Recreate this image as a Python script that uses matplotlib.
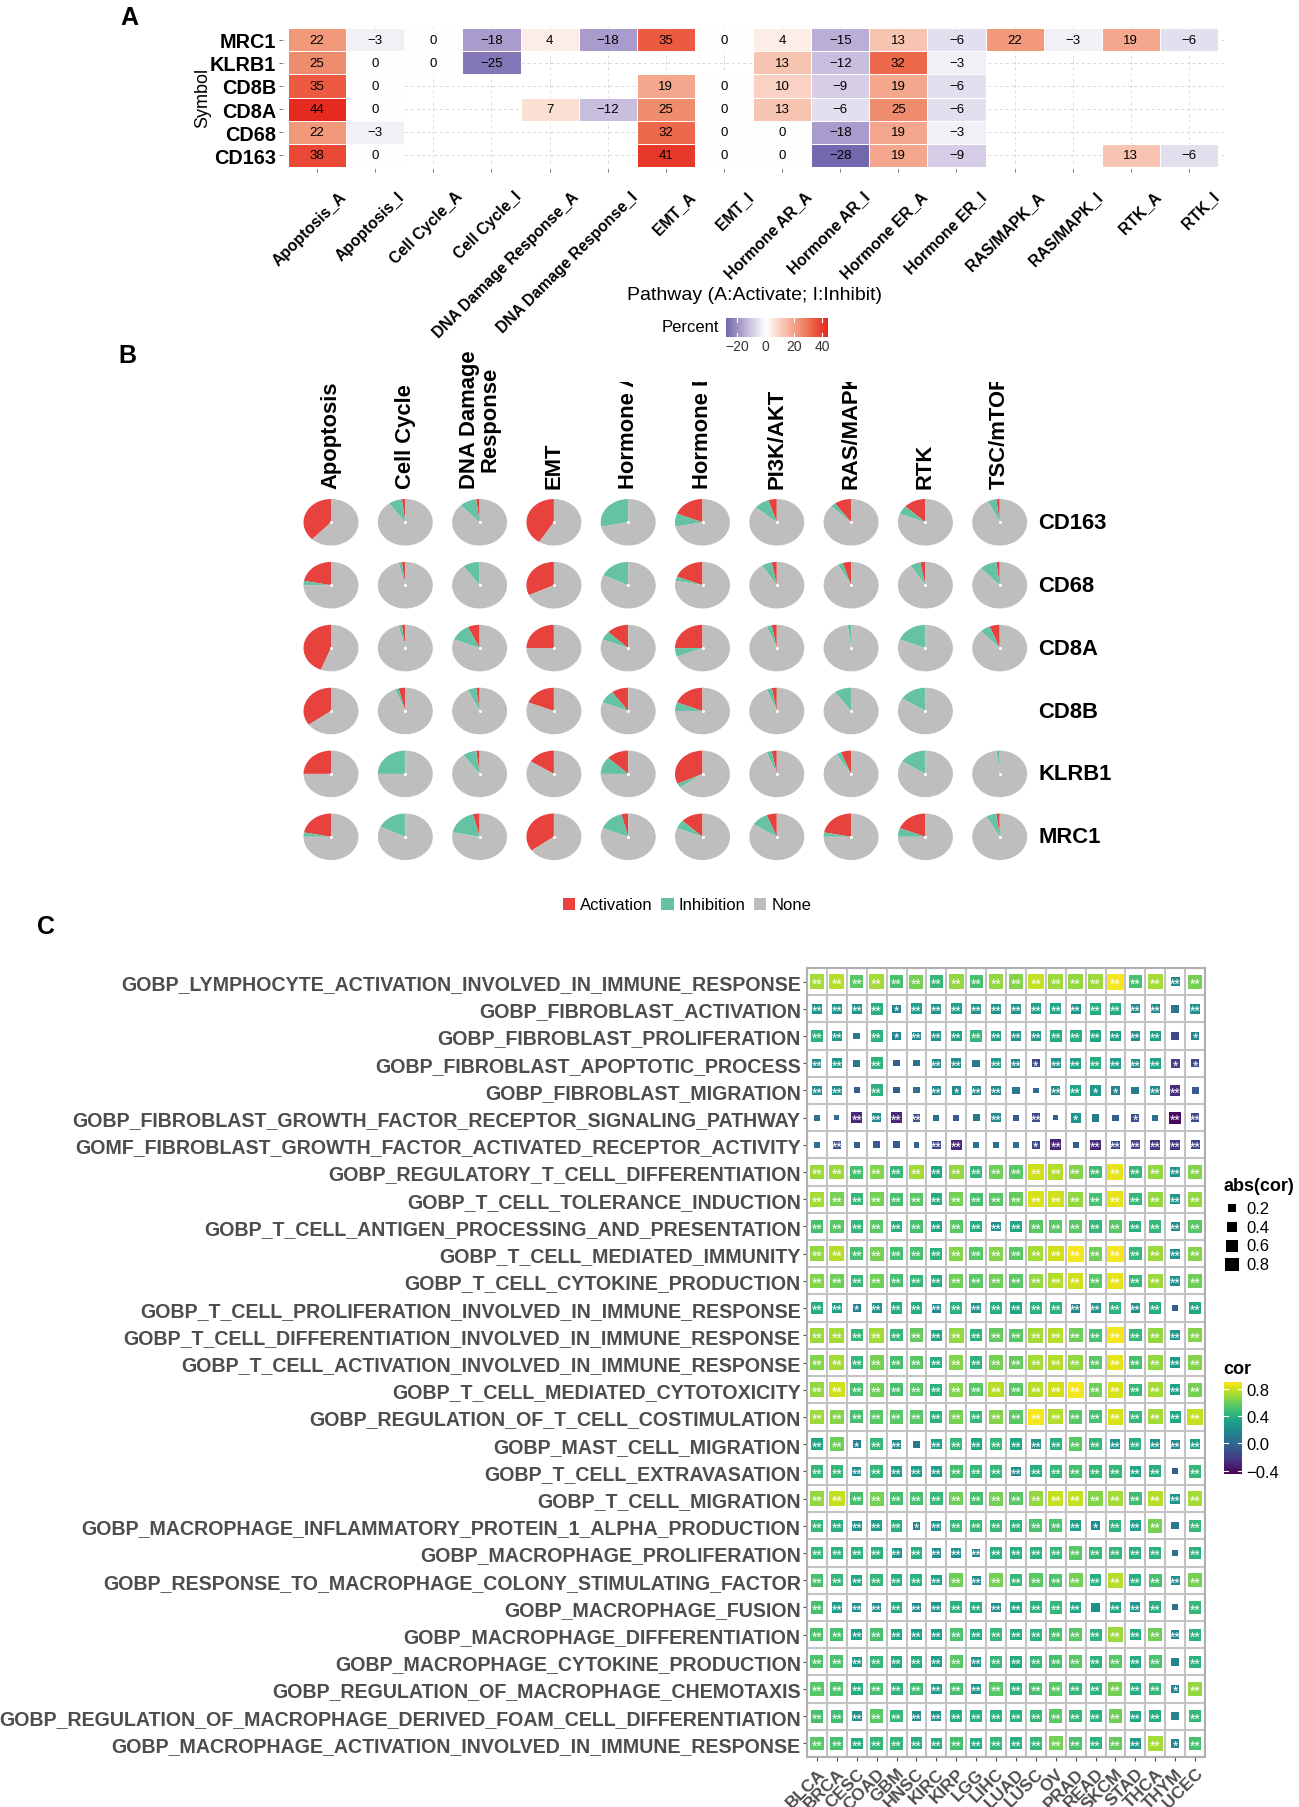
import numpy as np
import matplotlib
matplotlib.use("Agg")
import matplotlib.pyplot as plt
from matplotlib.colors import LinearSegmentedColormap, Normalize
from matplotlib.patches import Wedge, Patch
from matplotlib.transforms import Bbox, TransformedBbox, ScaledTranslation, blended_transform_factory

plt.rcParams['font.family'] = ['Liberation Sans', 'DejaVu Sans']
plt.rcParams['axes.unicode_minus'] = True

W, H = 1299, 1808
N = np.nan

# ---------------- Panel A data ----------------
genes_A = ['MRC1', 'KLRB1', 'CD8B', 'CD8A', 'CD68', 'CD163']
pathways_A = ['Apoptosis_A', 'Apoptosis_I', 'Cell Cycle_A', 'Cell Cycle_I',
              'DNA Damage Response_A', 'DNA Damage Response_I', 'EMT_A', 'EMT_I',
              'Hormone AR_A', 'Hormone AR_I', 'Hormone ER_A', 'Hormone ER_I',
              'RAS/MAPK_A', 'RAS/MAPK_I', 'RTK_A', 'RTK_I']
pct_MRC1 = [22, -3, 0, -18, 4, -18, 35, 0, 4, -15, 13, -6, 22, -3, 19, -6]
pct_KLRB1 = [25, 0, 0, -25, N, N, N, N, 13, -12, 32, -3, N, N, N, N]
pct_CD8B = [35, 0, N, N, N, N, 19, 0, 10, -9, 19, -6, N, N, N, N]
pct_CD8A = [44, 0, N, N, 7, -12, 25, 0, 13, -6, 25, -6, N, N, N, N]
pct_CD68 = [22, -3, N, N, N, N, 32, 0, 0, -18, 19, -3, N, N, N, N]
pct_CD163 = [38, 0, N, N, N, N, 41, 0, 0, -28, 19, -9, N, N, 13, -6]
percent_ticks = [-20, 0, 20, 40]

# ---------------- Panel B data ----------------
pie_cols = ['Apoptosis', 'Cell Cycle', 'DNA Damage\nResponse', 'EMT', 'Hormone AR',
            'Hormone ER', 'PI3K/AKT', 'RAS/MAPK', 'RTK', 'TSC/mTOR']
pie_rows = ['CD163', 'CD68', 'CD8A', 'CD8B', 'KLRB1', 'MRC1']
act_CD163 = [38, 2, 2, 41, 0, 19, 5, 10, 13, 2]
inh_CD163 = [0, 8, 10, 0, 28, 9, 9, 3, 6, 5]
act_CD68 = [22, 2, 0, 32, 0, 19, 3, 5, 3, 2]
inh_CD68 = [3, 2, 10, 0, 18, 3, 6, 3, 6, 10]
act_CD8A = [44, 2, 7, 25, 13, 25, 3, 0, 0, 6]
inh_CD8A = [0, 2, 12, 0, 6, 6, 3, 2, 19, 6]
act_CD8B = [35, 4, 2, 19, 10, 19, 3, 0, 0, N]
inh_CD8B = [0, 2, 5, 0, 9, 6, 3, 10, 16, N]
act_KLRB1 = [25, 0, 2, 16, 13, 32, 3, 6, 0, 0]
inh_KLRB1 = [0, 25, 8, 0, 12, 3, 3, 3, 16, 2]
act_MRC1 = [22, 0, 4, 35, 4, 13, 6, 22, 19, 2]
inh_MRC1 = [3, 18, 18, 0, 15, 6, 10, 3, 6, 6]
pie_labels = ['Activation', 'Inhibition', 'None']

# ---------------- Panel C data ----------------
cancers = ['BLCA', 'BRCA', 'CESC', 'COAD', 'GBM', 'HNSC', 'KIRC', 'KIRP', 'LGG', 'LIHC',
           'LUAD', 'LUSC', 'OV', 'PRAD', 'READ', 'SKCM', 'STAD', 'THCA', 'THYM', 'UCEC']
terms = ['GOBP_LYMPHOCYTE_ACTIVATION_INVOLVED_IN_IMMUNE_RESPONSE',
         'GOBP_FIBROBLAST_ACTIVATION',
         'GOBP_FIBROBLAST_PROLIFERATION',
         'GOBP_FIBROBLAST_APOPTOTIC_PROCESS',
         'GOBP_FIBROBLAST_MIGRATION',
         'GOBP_FIBROBLAST_GROWTH_FACTOR_RECEPTOR_SIGNALING_PATHWAY',
         'GOMF_FIBROBLAST_GROWTH_FACTOR_ACTIVATED_RECEPTOR_ACTIVITY',
         'GOBP_REGULATORY_T_CELL_DIFFERENTIATION',
         'GOBP_T_CELL_TOLERANCE_INDUCTION',
         'GOBP_T_CELL_ANTIGEN_PROCESSING_AND_PRESENTATION',
         'GOBP_T_CELL_MEDIATED_IMMUNITY',
         'GOBP_T_CELL_CYTOKINE_PRODUCTION',
         'GOBP_T_CELL_PROLIFERATION_INVOLVED_IN_IMMUNE_RESPONSE',
         'GOBP_T_CELL_DIFFERENTIATION_INVOLVED_IN_IMMUNE_RESPONSE',
         'GOBP_T_CELL_ACTIVATION_INVOLVED_IN_IMMUNE_RESPONSE',
         'GOBP_T_CELL_MEDIATED_CYTOTOXICITY',
         'GOBP_REGULATION_OF_T_CELL_COSTIMULATION',
         'GOBP_MAST_CELL_MIGRATION',
         'GOBP_T_CELL_EXTRAVASATION',
         'GOBP_T_CELL_MIGRATION',
         'GOBP_MACROPHAGE_INFLAMMATORY_PROTEIN_1_ALPHA_PRODUCTION',
         'GOBP_MACROPHAGE_PROLIFERATION',
         'GOBP_RESPONSE_TO_MACROPHAGE_COLONY_STIMULATING_FACTOR',
         'GOBP_MACROPHAGE_FUSION',
         'GOBP_MACROPHAGE_DIFFERENTIATION',
         'GOBP_MACROPHAGE_CYTOKINE_PRODUCTION',
         'GOBP_REGULATION_OF_MACROPHAGE_CHEMOTAXIS',
         'GOBP_REGULATION_OF_MACROPHAGE_DERIVED_FOAM_CELL_DIFFERENTIATION',
         'GOBP_MACROPHAGE_ACTIVATION_INVOLVED_IN_IMMUNE_RESPONSE']

cor_lymph_act = [0.72, 0.75, 0.55, 0.72, 0.50, 0.62, 0.45, 0.68, 0.50, 0.68, 0.65, 0.78, 0.70, 0.68, 0.70, 0.88, 0.50, 0.72, 0.20, 0.62]
cor_fib_act = [0.25, 0.25, 0.25, 0.40, 0.15, 0.30, 0.25, 0.30, 0.25, 0.25, 0.25, 0.30, 0.35, 0.25, 0.38, 0.38, 0.20, 0.20, 0.10, 0.22]
cor_fib_prolif = [0.42, 0.28, 0.08, 0.42, 0.15, 0.18, 0.25, 0.32, 0.45, 0.30, 0.25, 0.28, 0.38, 0.40, 0.35, 0.30, 0.20, 0.30, -0.15, 0.15]
cor_fib_apop = [0.18, 0.28, 0.08, 0.42, -0.05, 0.05, 0.18, 0.22, 0.10, 0.28, 0.18, -0.15, 0.25, 0.32, 0.38, 0.30, 0.20, 0.33, -0.20, -0.15]
cor_fib_migr = [0.20, 0.22, -0.05, 0.42, -0.05, 0.05, 0.18, 0.20, 0.20, 0.20, 0.10, 0.03, 0.20, 0.35, 0.28, 0.15, 0.12, 0.22, -0.28, -0.08]
cor_fgfr_sig = [0.05, 0.02, -0.30, 0.20, -0.30, -0.12, 0.05, -0.05, 0.08, 0.20, -0.05, -0.15, -0.03, 0.25, 0.12, -0.05, -0.12, 0.05, -0.42, -0.15]
cor_fgf_rec = [0.03, -0.12, -0.05, -0.07, -0.08, -0.03, -0.15, -0.30, 0.03, 0.05, 0.03, -0.15, -0.32, -0.05, -0.30, -0.15, -0.18, -0.22, -0.25, -0.18]
cor_treg_diff = [0.70, 0.70, 0.50, 0.65, 0.45, 0.72, 0.35, 0.68, 0.45, 0.60, 0.55, 0.80, 0.75, 0.65, 0.48, 0.85, 0.45, 0.68, 0.25, 0.65]
cor_t_toler = [0.72, 0.62, 0.45, 0.62, 0.50, 0.55, 0.38, 0.62, 0.50, 0.55, 0.58, 0.82, 0.80, 0.68, 0.50, 0.85, 0.45, 0.68, 0.25, 0.68]
cor_t_antigen = [0.50, 0.55, 0.45, 0.55, 0.40, 0.50, 0.35, 0.55, 0.38, 0.22, 0.35, 0.55, 0.55, 0.55, 0.45, 0.55, 0.40, 0.45, 0.20, 0.55]
cor_t_immunity = [0.68, 0.75, 0.50, 0.62, 0.50, 0.50, 0.42, 0.65, 0.55, 0.65, 0.55, 0.72, 0.80, 0.88, 0.60, 0.88, 0.45, 0.70, 0.25, 0.65]
cor_t_cytokine = [0.65, 0.60, 0.45, 0.60, 0.50, 0.45, 0.38, 0.60, 0.55, 0.60, 0.55, 0.68, 0.75, 0.80, 0.55, 0.85, 0.45, 0.70, 0.22, 0.60]
cor_t_prolif = [0.38, 0.30, 0.12, 0.25, 0.38, 0.38, 0.18, 0.42, 0.25, 0.40, 0.35, 0.42, 0.42, 0.18, 0.25, 0.42, 0.22, 0.38, -0.05, 0.35]
cor_t_diff = [0.70, 0.72, 0.45, 0.72, 0.45, 0.58, 0.35, 0.68, 0.42, 0.58, 0.55, 0.72, 0.75, 0.60, 0.50, 0.88, 0.45, 0.68, 0.25, 0.65]
cor_t_act = [0.65, 0.72, 0.45, 0.62, 0.50, 0.55, 0.40, 0.65, 0.42, 0.62, 0.58, 0.72, 0.75, 0.68, 0.55, 0.85, 0.50, 0.68, 0.28, 0.65]
cor_t_cytotox = [0.68, 0.80, 0.50, 0.60, 0.50, 0.55, 0.42, 0.65, 0.55, 0.75, 0.55, 0.75, 0.80, 0.88, 0.60, 0.82, 0.45, 0.72, 0.30, 0.62]
cor_t_costim = [0.70, 0.65, 0.50, 0.55, 0.55, 0.55, 0.42, 0.62, 0.45, 0.65, 0.55, 0.88, 0.75, 0.55, 0.50, 0.82, 0.45, 0.72, 0.35, 0.78]
cor_mast_migr = [0.35, 0.60, 0.12, 0.45, 0.18, 0.08, 0.30, 0.45, 0.35, 0.45, 0.35, 0.25, 0.40, 0.55, 0.45, 0.25, 0.40, 0.22, 0.18, 0.30]
cor_t_extrav = [0.45, 0.45, 0.20, 0.45, 0.30, 0.30, 0.30, 0.50, 0.45, 0.45, 0.20, 0.40, 0.45, 0.50, 0.45, 0.45, 0.35, 0.40, -0.05, 0.45]
cor_t_migr = [0.68, 0.78, 0.50, 0.62, 0.50, 0.50, 0.45, 0.60, 0.50, 0.62, 0.55, 0.68, 0.78, 0.78, 0.65, 0.72, 0.48, 0.75, 0.25, 0.72]
cor_mip1a = [0.45, 0.40, 0.25, 0.30, 0.40, 0.12, 0.25, 0.45, 0.45, 0.45, 0.42, 0.52, 0.52, 0.32, 0.20, 0.42, 0.30, 0.62, 0.10, 0.45]
cor_mac_prolif = [0.45, 0.42, 0.42, 0.42, 0.25, 0.40, 0.20, 0.22, 0.15, 0.40, 0.40, 0.42, 0.45, 0.55, 0.45, 0.45, 0.40, 0.42, 0.05, 0.42]
cor_mcsf = [0.50, 0.45, 0.35, 0.45, 0.40, 0.42, 0.30, 0.60, 0.20, 0.62, 0.45, 0.55, 0.52, 0.62, 0.40, 0.75, 0.40, 0.50, 0.20, 0.62]
cor_mac_fusion = [0.50, 0.30, 0.20, 0.22, 0.38, 0.18, 0.25, 0.42, 0.38, 0.22, 0.35, 0.42, 0.45, 0.35, 0.22, 0.35, 0.25, 0.40, 0.05, 0.45]
cor_mac_diff = [0.52, 0.50, 0.30, 0.50, 0.35, 0.30, 0.30, 0.52, 0.38, 0.45, 0.38, 0.42, 0.50, 0.55, 0.42, 0.70, 0.38, 0.60, 0.15, 0.42]
cor_mac_cytok = [0.52, 0.52, 0.28, 0.45, 0.38, 0.38, 0.30, 0.55, 0.25, 0.45, 0.38, 0.45, 0.50, 0.55, 0.42, 0.55, 0.38, 0.52, 0.15, 0.42]
cor_mac_chemo = [0.55, 0.52, 0.38, 0.50, 0.42, 0.48, 0.30, 0.50, 0.25, 0.55, 0.42, 0.50, 0.55, 0.45, 0.42, 0.62, 0.38, 0.45, 0.15, 0.68]
cor_foam = [0.50, 0.48, 0.22, 0.55, 0.45, 0.22, 0.25, 0.40, 0.40, 0.42, 0.42, 0.45, 0.55, 0.45, 0.42, 0.60, 0.35, 0.38, 0.15, 0.45]
cor_mac_act = [0.55, 0.50, 0.38, 0.45, 0.45, 0.40, 0.38, 0.50, 0.38, 0.45, 0.40, 0.45, 0.62, 0.52, 0.42, 0.58, 0.28, 0.72, 0.15, 0.50]

# significance: 2 = '**', 1 = '*', 0 = none (one character per cancer)
sig_rows = ['22222222222222222222', '22221222222222222202', '22021222222222222201',
            '22020022022122222211', '22020021220022110220', '00222200020201001022',
            '02000022000120222222', '22222222222222222222', '22222222222222222222',
            '22222222222222222222', '22222222222222222222', '22222222222222222222',
            '22122222222222222202', '22222222222222222222', '22222222222222222222',
            '22222222222222222222', '22222222222222222222', '22122022222222222222',
            '22222222222222222202', '22222222222222222222', '22222122222222122202',
            '22222222222222222202', '22222222222222222222', '22222222222222022202',
            '22222222222222222222', '22222222222222222202', '22222222222222222212',
            '22222222222222222202', '22222222222222222212']
size_legend_vals = [0.2, 0.4, 0.6, 0.8]
cor_ticks = [0.8, 0.4, 0.0, -0.4]

# ======================================================
fig = plt.figure(figsize=(W / 100, H / 100), dpi=100)


def rect(l, t, r, b):
    return [l / W, 1 - b / H, (r - l) / W, (b - t) / H]


def fxy(x, y):
    return (x / W, 1 - y / H)


def fmt(v):
    v = int(round(v))
    return ('\u2212%d' % -v) if v < 0 else '%d' % v


# ---------------- Panel A ----------------
matA = np.array([pct_MRC1, pct_KLRB1, pct_CD8B, pct_CD8A, pct_CD68, pct_CD163], dtype=float)
stops = [(-44, '#4e3b93'), (-28, '#7367ae'), (-18, '#aa9dcc'), (-9, '#d6cfe6'), (0, '#ffffff'),
         (10, '#fad2c3'), (22, '#f29a7c'), (32, '#ed6a4c'), (44, '#e52a1f')]
normA = Normalize(-44, 44)
cmapA = LinearSegmentedColormap.from_list('pct', [(normA(v), c) for v, c in stops])

x0A, x1A, y0A, y1A = 288, 1218, 29, 168
uxA = (x1A - x0A) / 16.0
uyA = (y1A - y0A) / 6.0
axA = fig.add_axes(rect(x0A - 0.1 * uxA, y0A - 0.1 * uyA, x1A + 0.1 * uxA, y1A + 0.1 * uyA))
axA.set_xlim(-0.6, 15.6)
axA.set_ylim(5.6, -0.6)
axA.set_axisbelow(True)
axA.grid(True, color='#d9d9d9', linestyle=(0, (3, 3)), linewidth=0.7)
axA.pcolormesh(np.arange(-0.5, 16), np.arange(-0.5, 6), np.ma.masked_invalid(matA),
               cmap=cmapA, norm=normA, edgecolors='white', linewidth=0.6)
for i in range(matA.shape[0]):
    for j in range(matA.shape[1]):
        if not np.isnan(matA[i, j]):
            axA.text(j, i, fmt(matA[i, j]), ha='center', va='center', fontsize=9.5, color='black')
for s in axA.spines.values():
    s.set_visible(False)
axA.set_xticks(range(16))
axA.set_xticklabels([])
transX = blended_transform_factory(axA.transData, axA.transAxes) + \
    ScaledTranslation(22 / 100, -19 / 100, fig.dpi_scale_trans)
for j, lab in enumerate(pathways_A):
    axA.text(j, 0, lab, transform=transX, rotation=45, ha='right', va='top',
             rotation_mode='anchor', fontsize=11.3, fontweight='bold', clip_on=False)
axA.set_yticks(range(6))
axA.set_yticklabels(genes_A, fontsize=14.3, fontweight='bold')
axA.tick_params(axis='both', length=2.5, color='#555555', width=0.6)
axA.tick_params(axis='y', pad=2)
fig.text(*fxy(203, 98), 'Symbol', rotation=90, ha='center', va='center', fontsize=13)
fig.text(*fxy(755, 296), 'Pathway (A:Activate; I:Inhibit)', ha='center', va='center', fontsize=14)
fig.text(*fxy(719, 328), 'Percent', ha='right', va='center', fontsize=12)
caxA = fig.add_axes(rect(726, 319, 828, 338))
grad = np.linspace(-28, 44, 256)[None, :]
caxA.imshow(grad, cmap=cmapA, norm=normA, extent=(-28, 44, 0, 1), aspect='auto')
caxA.set_xlim(-28, 44)
caxA.set_yticks([])
caxA.set_xticks(percent_ticks)
caxA.set_xticklabels([fmt(t) for t in percent_ticks], fontsize=10, color='#333333')
caxA.tick_params(axis='x', length=0, pad=1.5)
for t in percent_ticks:
    caxA.plot([t, t], [0, 0.2], color='white', lw=0.8)
    caxA.plot([t, t], [0.8, 1], color='white', lw=0.8)
for s in caxA.spines.values():
    s.set_visible(False)

# ---------------- Panel B ----------------
act_B = np.array([act_CD163, act_CD68, act_CD8A, act_CD8B, act_KLRB1, act_MRC1], dtype=float)
inh_B = np.array([inh_CD163, inh_CD68, inh_CD8A, inh_CD8B, inh_KLRB1, inh_MRC1], dtype=float)
c_act, c_inh, c_none = '#E8423F', '#66C2A5', '#BEBEBE'
cx0, cdx = 331.0, 74.3
cy0, cdy = 523.3, 62.9
axB = fig.add_axes(rect(cx0 - cdx / 2, cy0 - cdy / 2, cx0 + 9.5 * cdx, cy0 + 5.5 * cdy))
axB.set_xlim(-0.5, 9.5)
axB.set_ylim(-0.5, 5.5)
axB.axis('off')
R = 0.37
for i in range(6):
    y = 5 - i
    for j in range(10):
        a, b = act_B[i, j], inh_B[i, j]
        if np.isnan(a):
            continue
        ta = 90 + 360 * a / 100.0
        tb = ta + 360 * b / 100.0
        if a > 0:
            axB.add_patch(Wedge((j, y), R, 90, ta, facecolor=c_act, edgecolor='none'))
        if b > 0:
            axB.add_patch(Wedge((j, y), R, ta, tb, facecolor=c_inh, edgecolor='none'))
        axB.add_patch(Wedge((j, y), R, tb, 450, facecolor=c_none, edgecolor='none'))
        axB.plot(j, y, 'o', color='white', ms=2.2, mew=0)

clip_bb = TransformedBbox(Bbox([[0, 0], [1, 1 - 383 / H]]), fig.transFigure)
for j, name in enumerate(pie_cols):
    t = fig.text((cx0 + j * cdx) / W, 1 - 489 / H, name, rotation=90, ha='center', va='bottom',
                 fontsize=15.8, fontweight='bold', multialignment='center', linespacing=1.0)
    if '\n' not in name:
        t.set_clip_box(clip_bb)
        t.set_clip_on(True)
for i, g in enumerate(pie_rows):
    fig.text(1038 / W, 1 - (cy0 + i * cdy) / H, g, ha='left', va='center',
             fontsize=15.8, fontweight='bold')

handles = [Patch(facecolor=c, edgecolor='none') for c in (c_act, c_inh, c_none)]
fig.legend(handles, pie_labels, loc='center', bbox_to_anchor=fxy(687, 906), ncol=3,
           frameon=False, fontsize=12, handlelength=0.75, handleheight=0.75,
           handletextpad=0.3, columnspacing=0.5, borderaxespad=0)

# ---------------- Panel C ----------------
corC = np.array([cor_lymph_act, cor_fib_act, cor_fib_prolif, cor_fib_apop, cor_fib_migr,
                 cor_fgfr_sig, cor_fgf_rec, cor_treg_diff, cor_t_toler, cor_t_antigen,
                 cor_t_immunity, cor_t_cytokine, cor_t_prolif, cor_t_diff, cor_t_act,
                 cor_t_cytotox, cor_t_costim, cor_mast_migr, cor_t_extrav, cor_t_migr,
                 cor_mip1a, cor_mac_prolif, cor_mcsf, cor_mac_fusion, cor_mac_diff,
                 cor_mac_cytok, cor_mac_chemo, cor_foam, cor_mac_act])
nr, nc = corC.shape
normC = Normalize(-0.45, 0.9)


def marker_area(v):
    side_px = 3.0 + 14.0 * np.sqrt(np.abs(np.asarray(v, dtype=float)))
    return (side_px * 0.72) ** 2


axC = fig.add_axes(rect(807, 969, 1205, 1758))
axC.set_xlim(-0.5, nc - 0.5)
axC.set_ylim(nr - 0.5, -0.5)
for k in range(nc + 1):
    axC.axvline(k - 0.5, color='#c4c4c4', lw=1.5, zorder=1)
for k in range(nr + 1):
    axC.axhline(k - 0.5, color='#c4c4c4', lw=1.5, zorder=1)
XX, YY = np.meshgrid(np.arange(nc), np.arange(nr))
axC.scatter(XX.ravel(), YY.ravel(), s=marker_area(corC.ravel()), c=corC.ravel(),
            cmap='viridis', norm=normC, marker='s', linewidths=0, zorder=2)
star_map = {'2': '**', '1': '*', '0': ''}
for i in range(nr):
    for j in range(nc):
        st = star_map[sig_rows[i][j]]
        if st:
            axC.text(j, i + 0.08, st, ha='center', va='center', fontsize=10, color='white', zorder=3)
for s in axC.spines.values():
    s.set_color('#b0b0b0')
    s.set_linewidth(1.5)
axC.set_xticks(range(nc))
axC.set_xticklabels(cancers, rotation=45, ha='right', rotation_mode='anchor',
                    fontsize=12.5, fontweight='bold', color='#4d4d4d')
axC.set_yticks(range(nr))
axC.set_yticklabels(terms, fontsize=14.1, fontweight='bold', color='#4d4d4d')
axC.tick_params(axis='both', length=3, color='#4d4d4d', width=0.8)
axC.tick_params(axis='y', pad=1.5)
axC.tick_params(axis='x', pad=3)

# size legend
fig.text(*fxy(1223, 1187), 'abs(cor)', ha='left', va='center', fontsize=13, fontweight='bold')
axL = fig.add_axes(rect(1222, 1200, 1244, 1275))
axL.set_xlim(0, 1)
axL.set_ylim(len(size_legend_vals) - 0.5, -0.5)
axL.axis('off')
axL.scatter([0.45] * len(size_legend_vals), range(len(size_legend_vals)),
            s=marker_area(size_legend_vals) * 0.75, c='black', marker='s', linewidths=0)
for k, v in enumerate(size_legend_vals):
    axL.text(1.1, k, '%.1f' % v, ha='left', va='center', fontsize=12, transform=axL.transData)

# colour legend
fig.text(*fxy(1223, 1370), 'cor', ha='left', va='center', fontsize=13, fontweight='bold')
caxC = fig.add_axes(rect(1224, 1383, 1242, 1475))
gradc = np.linspace(-0.45, 0.9, 256)[:, None]
caxC.imshow(gradc, cmap='viridis', norm=normC, extent=(0, 1, -0.45, 0.9), aspect='auto', origin='lower')
caxC.set_ylim(-0.45, 0.9)
caxC.set_xticks([])
caxC.yaxis.tick_right()
caxC.set_yticks(cor_ticks)
caxC.set_yticklabels(['%.1f' % t if t >= 0 else '\u2212%.1f' % -t for t in cor_ticks], fontsize=12)
caxC.tick_params(axis='y', length=0, pad=3)
for t in cor_ticks:
    caxC.plot([0, 0.2], [t, t], color='white', lw=0.8)
    caxC.plot([0.8, 1], [t, t], color='white', lw=0.8)
for s in caxC.spines.values():
    s.set_visible(False)

# panel letters
fig.text(*fxy(129, 18), 'A', ha='center', va='center', fontsize=18, fontweight='bold')
fig.text(*fxy(127, 356), 'B', ha='center', va='center', fontsize=18, fontweight='bold')
fig.text(*fxy(46, 927), 'C', ha='center', va='center', fontsize=18, fontweight='bold')

fig.savefig('out.png', dpi=100)
